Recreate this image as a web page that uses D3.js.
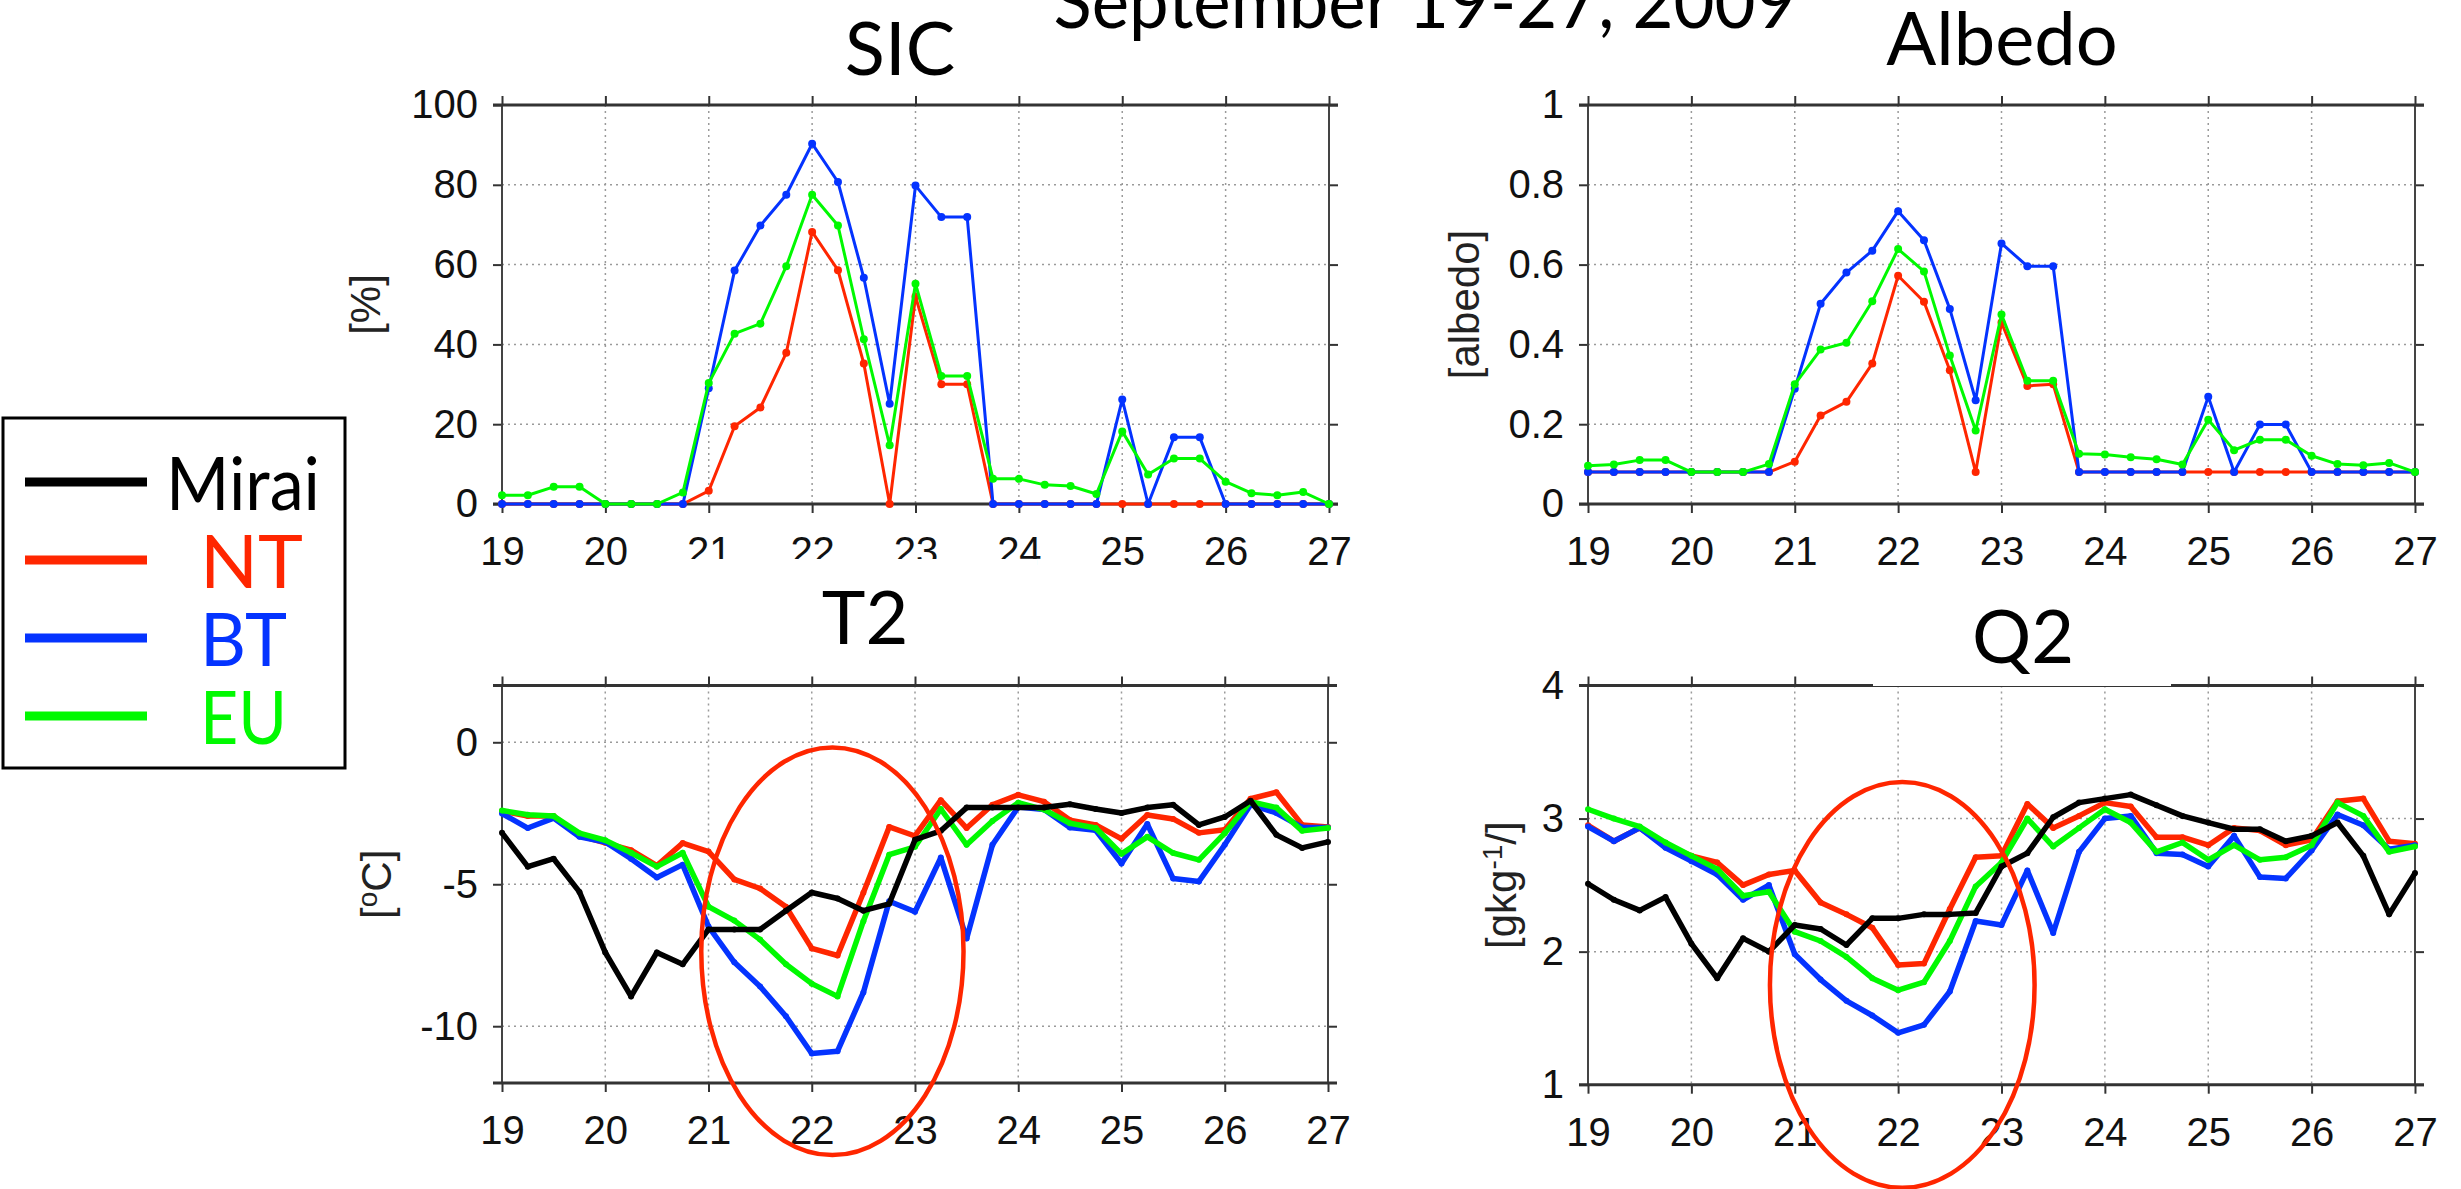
<!DOCTYPE html>
<html lang="en">
<head>
<meta charset="UTF-8">
<title>September 19-27, 2009</title>
<script src="https://d3js.org/d3.v7.min.js"></script>
<style>
  body { margin: 0; background: #fff; }
  svg { display: block; background: #fff; }
  .tick text { font-family: 'Liberation Sans', Arial, sans-serif; font-size: 40px; fill: #111; }
  .title { font-family: Lato, 'Open Sans', sans-serif; font-size: 74px; fill: #000; }
  .ylab { font-family: 'Liberation Sans', Arial, sans-serif; font-size: 42px; fill: #222; }
  .grid line { stroke: #9a9a9a; stroke-width: 1.5; stroke-dasharray: 2 4; }
  .legend text { font-family: Lato, 'Open Sans', sans-serif; font-size: 74px; }
</style>
</head>
<body>
<div id="chart"></div>
<script>
// 6-hourly times, Sept 19 00Z .. Sept 27 00Z
const days = [19, 19.25, 19.5, 19.75, 20, 20.25, 20.5, 20.75, 21, 21.25, 21.5, 21.75,
  22, 22.25, 22.5, 22.75, 23, 23.25, 23.5, 23.75, 24, 24.25, 24.5, 24.75,
  25, 25.25, 25.5, 25.75, 26, 26.25, 26.5, 26.75, 27];
const dayTicks = [19, 20, 21, 22, 23, 24, 25, 26, 27];

const series = ["Mirai", "NT", "BT", "EU"];
const colors = { Mirai: "#000000", NT: "#ff2600", BT: "#0433ff", EU: "#00f900" };

// SIC [%]
const sicNT = [0, 0, 0, 0, 0, 0, 0, 0, 3.3, 19.5, 24.2, 37.9, 68.2, 58.6, 35.2, 0,
  52, 30, 30, 0, 0, 0, 0, 0, 0, 0, 0, 0, 0, 0, 0, 0, 0];
const sicBT = [0, 0, 0, 0, 0, 0, 0, 0, 29, 58.5, 69.8, 77.5, 90.3, 80.7, 56.7, 25.1,
  79.8, 71.9, 71.9, 0, 0, 0, 0, 0, 26.2, 0, 16.7, 16.7, 0, 0, 0, 0, 0];
const sicEU = [2.2, 2.2, 4.3, 4.3, 0, 0, 0, 2.9, 30.3, 42.7, 45.2, 59.6, 77.5, 69.8, 41.3, 14.7,
  55.2, 32.1, 32.1, 6.3, 6.3, 4.8, 4.5, 2.5, 18.2, 7.4, 11.4, 11.4, 5.6, 2.7, 2.2, 3, 0];

// Albedo
const albNT = [0.08, 0.08, 0.08, 0.08, 0.08, 0.08, 0.08, 0.08, 0.106, 0.222, 0.256, 0.352,
  0.572, 0.507, 0.335, 0.08, 0.455, 0.296, 0.30, 0.08, 0.08, 0.08, 0.08, 0.08,
  0.08, 0.08, 0.08, 0.08, 0.08, 0.08, 0.08, 0.08, 0.08];
const albBT = [0.08, 0.08, 0.08, 0.08, 0.08, 0.08, 0.08, 0.08, 0.289, 0.502, 0.58, 0.635,
  0.734, 0.661, 0.489, 0.26, 0.653, 0.596, 0.596, 0.08, 0.08, 0.08, 0.08, 0.08,
  0.269, 0.08, 0.199, 0.199, 0.08, 0.08, 0.08, 0.08, 0.08];
const albEU = [0.096, 0.099, 0.110, 0.110, 0.08, 0.08, 0.08, 0.10, 0.30, 0.387, 0.404, 0.508,
  0.639, 0.583, 0.372, 0.184, 0.475, 0.309, 0.309, 0.126, 0.124, 0.117, 0.112, 0.099,
  0.211, 0.135, 0.161, 0.161, 0.121, 0.10, 0.097, 0.103, 0.08];

// T2 [degC]
const t2Mirai = [-3.19, -4.38, -4.1, -5.27, -7.4, -8.95, -7.4, -7.82, -6.59, -6.59, -6.59, -5.93,
  -5.29, -5.5, -5.93, -5.69, -3.43, -3.12, -2.3, -2.3, -2.3, -2.3, -2.18, -2.35,
  -2.49, -2.3, -2.2, -2.91, -2.63, -2.06, -3.26, -3.72, -3.51];
const t2NT = [-2.42, -2.6, -2.6, -3.29, -3.54, -3.8, -4.34, -3.55, -3.85, -4.83, -5.15, -5.79,
  -7.26, -7.51, -5.3, -2.98, -3.3, -2.04, -3.02, -2.2, -1.85, -2.09, -2.74, -2.91,
  -3.4, -2.56, -2.7, -3.19, -3.08, -1.99, -1.76, -2.91, -2.98];
const t2BT = [-2.51, -3.02, -2.67, -3.33, -3.51, -4.1, -4.76, -4.31, -6.49, -7.75, -8.6, -9.65,
  -10.96, -10.88, -8.81, -5.6, -5.97, -4.06, -6.91, -3.61, -2.28, -2.37, -3.0, -3.1,
  -4.27, -2.88, -4.8, -4.9, -3.61, -2.2, -2.49, -3.0, -3.0];
const t2EU = [-2.4, -2.55, -2.6, -3.2, -3.45, -3.89, -4.38, -3.89, -5.79, -6.28, -6.95, -7.82,
  -8.5, -8.95, -6.3, -3.96, -3.68, -2.35, -3.61, -2.77, -2.13, -2.37, -2.85, -3.02,
  -3.93, -3.33, -3.9, -4.14, -3.2, -2.09, -2.3, -3.12, -3.02];

// Q2 [g/kg]
const q2Mirai = [2.51, 2.39, 2.31, 2.41, 2.06, 1.80, 2.1, 2.0, 2.2, 2.17, 2.05, 2.25,
  2.25, 2.28, 2.28, 2.29, 2.64, 2.74, 3.01, 3.12, 3.15, 3.18, 3.1, 3.02,
  2.97, 2.92, 2.92, 2.83, 2.87, 2.97, 2.72, 2.28, 2.59];
const q2NT = [2.95, 2.83, 2.93, 2.80, 2.72, 2.67, 2.5, 2.58, 2.61, 2.37, 2.28, 2.18,
  1.9, 1.91, 2.32, 2.71, 2.72, 3.11, 2.93, 3.02, 3.12, 3.09, 2.86, 2.86,
  2.8, 2.93, 2.91, 2.8, 2.84, 3.13, 3.15, 2.83, 2.81];
const q2BT = [2.94, 2.83, 2.93, 2.78, 2.68, 2.58, 2.39, 2.5, 1.98, 1.79, 1.63, 1.52,
  1.39, 1.45, 1.70, 2.23, 2.2, 2.61, 2.14, 2.75, 3.0, 3.02, 2.74, 2.73,
  2.64, 2.87, 2.56, 2.55, 2.76, 3.03, 2.95, 2.77, 2.8];
const q2EU = [3.07, 3.0, 2.94, 2.82, 2.72, 2.62, 2.42, 2.45, 2.15, 2.08, 1.96, 1.80,
  1.71, 1.77, 2.08, 2.49, 2.67, 3.0, 2.79, 2.93, 3.07, 2.97, 2.75, 2.82,
  2.69, 2.8, 2.69, 2.71, 2.8, 3.12, 3.02, 2.75, 2.79];

const W = 2461, H = 1189;
const svg = d3.select("#chart").append("svg").attr("width", W).attr("height", H);

const panels = [
  { title: "SIC", ylab: ["[%]"], dom: [0, 100], ticks: [0, 20, 40, 60, 80, 100],
    box: [502, 1329, 105, 504], tpos: [900, 75], ylx: 365, thin: true,
    data: { NT: sicNT, BT: sicBT, EU: sicEU } },
  { title: "Albedo", ylab: ["[albedo]"], dom: [0, 1], ticks: [0, 0.2, 0.4, 0.6, 0.8, 1],
    box: [1588, 2415, 105, 504], tpos: [2002, 65], ylx: 1464, thin: true,
    data: { NT: albNT, BT: albBT, EU: albEU } },
  { title: "T2", ylab: ["[", "o", "C]"], dom: [-12, 2], ticks: [-10, -5, 0],
    box: [502, 1328, 685.5, 1083], tpos: [865, 644], ylx: 376, thin: false,
    data: { NT: t2NT, BT: t2BT, EU: t2EU, Mirai: t2Mirai },
    ring: { cx: 22.2, cy: -7.36, rx: 1.27, ry: 7.18 },
    titleBox: [683, 559, 354, 80] },
  { title: "Q2", ylab: ["[gkg", "-1", "/]"], dom: [1, 4], ticks: [1, 2, 3, 4],
    box: [1588, 2415, 685.5, 1084.7], tpos: [2023, 663], ylx: 1501, thin: false,
    data: { NT: q2NT, BT: q2BT, EU: q2EU, Mirai: q2Mirai },
    ring: { cx: 22.04, cy: 1.75, rx: 1.28, ry: 1.525 },
    titleBox: [1873, 600, 298, 86] }
];

const drawOrder = ["NT", "BT", "EU", "Mirai"];

panels.forEach(p => {
  const [L, R, T, B] = p.box;
  const x = d3.scaleLinear().domain([19, 27]).range([L, R]);
  const y = d3.scaleLinear().domain(p.dom).range([B, T]);
  const g = svg.append("g");

  // grid
  const grid = g.append("g").attr("class", "grid");
  grid.selectAll(".vg").data(dayTicks.slice(1, -1)).join("line")
    .attr("x1", d => x(d)).attr("x2", d => x(d)).attr("y1", T).attr("y2", B);
  grid.selectAll(".hg").data(p.ticks.filter(t => t > p.dom[0] && t < p.dom[1])).join("line")
    .attr("class", "hg")
    .attr("x1", L).attr("x2", R).attr("y1", d => y(d)).attr("y2", d => y(d));

  // axes
  const ax = g.append("g").attr("transform", `translate(0,${B})`)
    .call(d3.axisBottom(x).tickValues(dayTicks).tickSize(9).tickSizeOuter(0).tickPadding(24).tickFormat(d => String(d)));
  const axT = g.append("g").attr("transform", `translate(0,${T})`)
    .call(d3.axisTop(x).tickValues(dayTicks).tickSize(9).tickSizeOuter(0).tickFormat(""));
  const ay = g.append("g").attr("transform", `translate(${L},0)`)
    .call(d3.axisLeft(y).tickValues(p.ticks).tickSize(9).tickSizeOuter(0).tickPadding(15).tickFormat(d => String(d)));
  const ayR = g.append("g").attr("transform", `translate(${R},0)`)
    .call(d3.axisRight(y).tickValues(p.ticks).tickSize(9).tickSizeOuter(0).tickFormat(""));
  [ax, axT, ay, ayR].forEach(a => {
    a.select(".domain").remove();
    a.selectAll(".tick line").attr("stroke", "#333").attr("stroke-width", 2);
  });
  ax.selectAll(".tick text").attr("dy", "0.71em");

  // frame
  g.append("line").attr("x1", L).attr("x2", L).attr("y1", T).attr("y2", B).attr("stroke", "#444").attr("stroke-width", 2);
  g.append("line").attr("x1", R).attr("x2", R).attr("y1", T).attr("y2", B).attr("stroke", "#444").attr("stroke-width", 2);
  g.append("line").attr("x1", L - 9).attr("x2", R + 9).attr("y1", T).attr("y2", T).attr("stroke", "#333").attr("stroke-width", 3);
  g.append("line").attr("x1", L - 9).attr("x2", R + 9).attr("y1", B).attr("y2", B).attr("stroke", "#333").attr("stroke-width", 3);

  // series
  const line = d3.line().x((d, i) => x(days[i])).y(d => y(d));
  drawOrder.filter(s => p.data[s]).forEach(s => {
    const vals = p.data[s];
    g.append("path").datum(vals)
      .attr("fill", "none").attr("stroke", colors[s])
      .attr("stroke-width", p.thin ? 3 : 5.5)
      .attr("stroke-linejoin", "round")
      .attr("d", line);
    g.append("g").selectAll("circle").data(vals).join("circle")
      .attr("cx", (d, i) => x(days[i])).attr("cy", d => y(d))
      .attr("r", p.thin ? 4 : 3)
      .attr("fill", colors[s]);
  });

  // y label
  const yl = g.append("text").attr("class", "ylab")
    .attr("text-anchor", "middle").attr("dy", "0.35em")
    .attr("transform", `translate(${p.ylx},${(T + B) / 2}) rotate(-90)`);
  p.ylab.forEach((part, i) => {
    const ts = yl.append("tspan").text(part);
    if (p.ylab.length === 3 && i === 1) ts.attr("font-size", "28px").attr("dy", "-14");
    if (p.ylab.length === 3 && i === 2) ts.attr("dy", "14");
  });

  // white box behind the panel title (it hides a bit of what lies under it)
  if (p.titleBox) {
    const [bx, by, bw, bh] = p.titleBox;
    g.append("rect").attr("x", bx).attr("y", by).attr("width", bw).attr("height", bh).attr("fill", "#fff");
  }

  // annotation ellipse
  if (p.ring) {
    const r = p.ring;
    g.append("ellipse")
      .attr("cx", x(r.cx)).attr("cy", y(r.cy))
      .attr("rx", x(r.cx + r.rx) - x(r.cx)).attr("ry", y(r.cy - r.ry) - y(r.cy))
      .attr("fill", "none").attr("stroke", "#ff2600").attr("stroke-width", 4.5);
  }

  g.append("text").attr("class", "title").attr("text-anchor", "middle")
    .attr("x", p.tpos[0]).attr("y", p.tpos[1]).text(p.title);
});

// main title, partly off the top edge
svg.append("text").attr("class", "title").attr("text-anchor", "middle")
  .attr("x", 1425).attr("y", 28)
  .attr("textLength", 743).attr("lengthAdjust", "spacingAndGlyphs")
  .text("September 19-27, 2009");

// legend
const legendWidths = { Mirai: 154, NT: 103, BT: 87, EU: 87 };
const lg = svg.append("g").attr("class", "legend");
lg.append("rect").attr("x", 3).attr("y", 418).attr("width", 342).attr("height", 350)
  .attr("fill", "#fff").attr("stroke", "#000").attr("stroke-width", 3);
series.forEach((s, i) => {
  const ly = 482 + i * 78;
  lg.append("line").attr("x1", 25).attr("x2", 147).attr("y1", ly).attr("y2", ly)
    .attr("stroke", colors[s]).attr("stroke-width", 9);
  lg.append("text").attr("x", i === 0 ? 166 : 200).attr("y", ly + 28)
    .attr("textLength", legendWidths[s]).attr("lengthAdjust", "spacingAndGlyphs")
    .attr("fill", colors[s]).text(s);
});
</script>
</body>
</html>
